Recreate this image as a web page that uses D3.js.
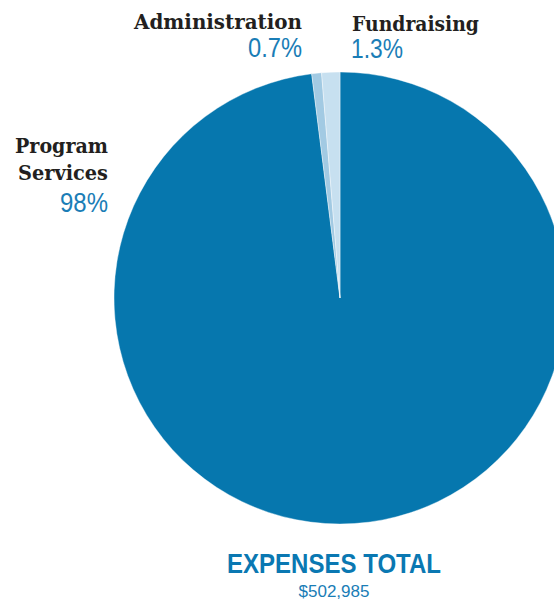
<!DOCTYPE html>
<html><head><meta charset="utf-8">
<script src="https://cdn.jsdelivr.net/npm/d3@7"></script>
<style>html,body{margin:0;padding:0;background:#fff;overflow:hidden}</style>
</head><body>
<script>
const categories = ["Program Services", "Administration", "Fundraising"];
const values = [98, 0.7, 1.3];
const valueLabels = ["98%", "0.7%", "1.3%"];
const colors = ["#0677ae", "#a2cae3", "#c7e0f0"];
const totalTitle = "EXPENSES TOTAL";
const totalValue = "$502,985";

const W = 554, H = 603;
const svg = d3.select("body").append("svg").attr("width", W).attr("height", H);
const cx = 340, cy = 298, R = 226;

const pie = d3.pie().sort(null).value(d => d)(values);
const arc = d3.arc().innerRadius(0).outerRadius(R);
svg.append("g").attr("transform", `translate(${cx},${cy})`)
  .selectAll("path").data(pie).join("path")
  .attr("d", arc).attr("fill", (d, i) => colors[i])
  .attr("stroke", "#fff").attr("stroke-width", 0.4);

const dark = "#231f20", blue = "#1a7db6";
const serif = "'DejaVu Serif', serif", sans = "'Liberation Sans', Arial, sans-serif";

function txt(x, y, s, o) {
  const t = svg.append("text").attr("x", x).attr("y", y).text(s)
    .attr("font-family", o.ff).attr("font-size", o.fs).attr("font-weight", o.fw || "normal")
    .attr("fill", o.fill).attr("text-anchor", o.anchor || "start");
  if (o.len) t.attr("textLength", o.len).attr("lengthAdjust", "spacingAndGlyphs");
  return t;
}
// Program Services
txt(108, 153, "Program", {ff: serif, fs: 21, fw: "bold", fill: dark, anchor: "end", len: 93});
txt(108, 180, "Services", {ff: serif, fs: 21, fw: "bold", fill: dark, anchor: "end", len: 90});
txt(108, 212, valueLabels[0], {ff: sans, fs: 27, fill: blue, anchor: "end", len: 48});
// Administration
txt(302, 29, categories[1], {ff: serif, fs: 21, fw: "bold", fill: dark, anchor: "end", len: 168});
txt(302, 57, valueLabels[1], {ff: sans, fs: 27, fill: blue, anchor: "end", len: 54});
// Fundraising
txt(352, 31, categories[2], {ff: serif, fs: 21, fw: "bold", fill: dark, len: 127});
txt(351, 58, valueLabels[2], {ff: sans, fs: 27, fill: blue, len: 52});
// Totals
txt(334, 573, totalTitle, {ff: sans, fs: 28, fw: "bold", fill: "#0a78b2", anchor: "middle", len: 214});
txt(334, 597, totalValue, {ff: sans, fs: 17, fill: blue, anchor: "middle", len: 71});
</script>
</body></html>
